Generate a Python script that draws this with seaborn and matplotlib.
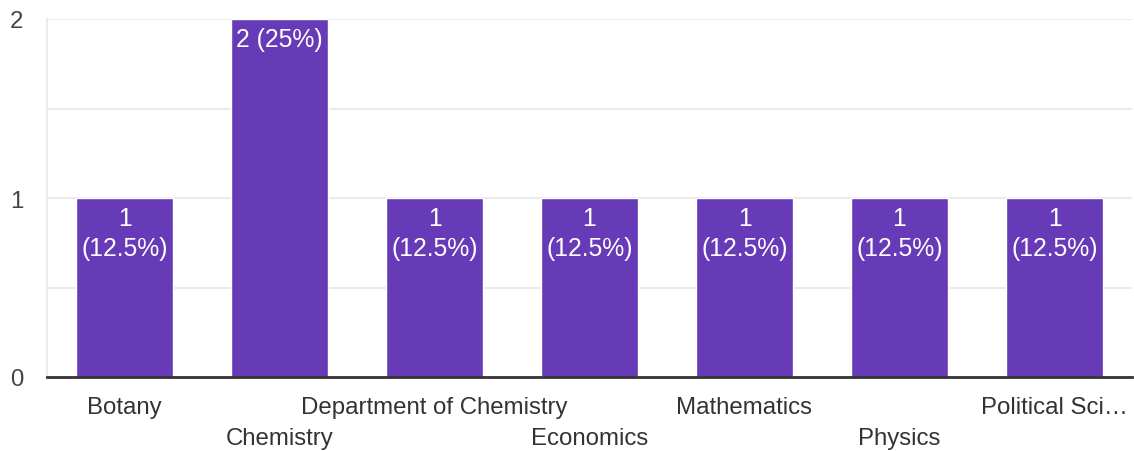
import matplotlib
matplotlib.use("Agg")
import matplotlib.pyplot as plt
import pandas as pd
import seaborn as sns

categories = [
    "Botany",
    "Chemistry",
    "Department of Chemistry",
    "Economics",
    "Mathematics",
    "Physics",
    "Political Sci\u2026",
]
counts = [1, 2, 1, 1, 1, 1, 1]
bar_labels = [
    "1\n(12.5%)",
    "2 (25%)",
    "1\n(12.5%)",
    "1\n(12.5%)",
    "1\n(12.5%)",
    "1\n(12.5%)",
    "1\n(12.5%)",
]

BAR_COLOR = "#673ab7"
TEXT_COLOR = "#333333"
GRID_COLOR = "#ebebeb"
FONT_SIZE = 17.3


def main() -> None:
    sns.set_theme(style="white")
    plt.rcParams["font.family"] = ["Liberation Sans", "DejaVu Sans"]

    df = pd.DataFrame({"category": categories, "count": counts})
    fig = plt.figure(figsize=(11.34, 4.52), dpi=100)
    ax = fig.add_axes([47 / 1134, 74 / 452, 1085 / 1134, 358 / 452])

    sns.barplot(data=df, x="category", y="count", color=BAR_COLOR,
                saturation=1, width=0.62, ax=ax)

    ax.set_ylim(0, 2)
    ax.set_xlim(-0.5, len(categories) - 0.5)
    ax.set_yticks([0, 1, 2])
    ax.set_yticks([0.5, 1.5], minor=True)
    ax.grid(True, axis="y", which="both", color=GRID_COLOR, linewidth=1.5)
    ax.set_axisbelow(True)
    ax.set_xlabel("")
    ax.set_ylabel("")

    for side in ["top", "right"]:
        ax.spines[side].set_visible(False)
    ax.spines["left"].set_color(GRID_COLOR)
    ax.spines["left"].set_linewidth(1.5)
    ax.spines["bottom"].set_color(TEXT_COLOR)
    ax.spines["bottom"].set_linewidth(2)
    ax.spines["bottom"].set_zorder(5)

    ax.tick_params(axis="y", which="both", length=0, pad=17,
                   labelsize=FONT_SIZE, labelcolor="#444444")
    ax.tick_params(axis="x", length=0, pad=14, labelsize=FONT_SIZE,
                   labelcolor=TEXT_COLOR)
    for i, tick in enumerate(ax.xaxis.get_major_ticks()):
        if i % 2 == 1:
            tick.set_pad(36)

    for i, (val, lab) in enumerate(zip(counts, bar_labels)):
        ax.annotate(lab, (i, val), xytext=(0, -6), textcoords="offset points",
                    ha="center", va="top", color="white", fontsize=FONT_SIZE + 0.5,
                    linespacing=1.3)

    fig.savefig("out.png", dpi=100)
    plt.close(fig)


if __name__ == "__main__":
    main()
